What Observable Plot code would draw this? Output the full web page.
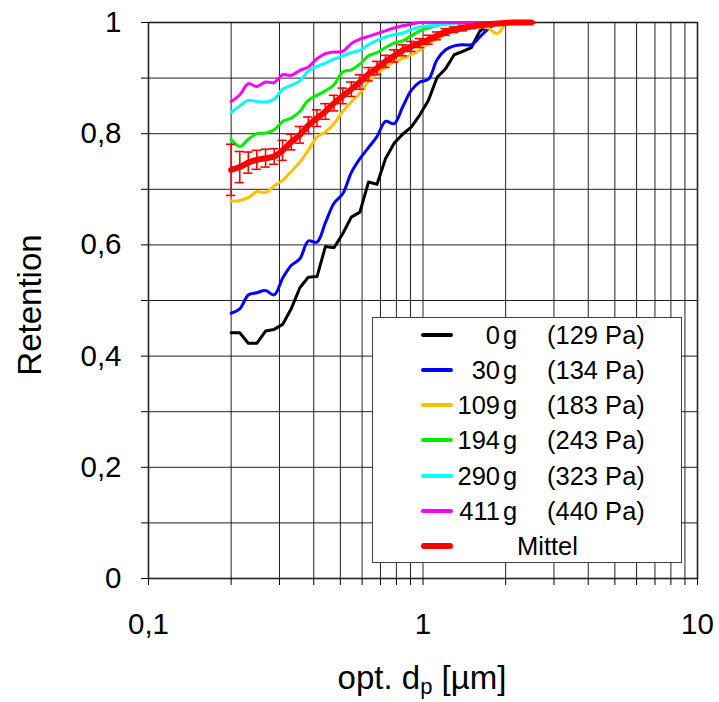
<!DOCTYPE html>
<html><head><meta charset="utf-8">
<script src="https://cdn.jsdelivr.net/npm/d3@7"></script>
<script src="https://cdn.jsdelivr.net/npm/@observablehq/plot@0.6"></script>
<style>
body{margin:0;background:#fff;font-family:"Liberation Sans",Arial,sans-serif;}
#wrap{position:relative;width:719px;height:702px;}
#legend{position:absolute;left:372px;top:317px;width:310px;height:246px;border:1.5px solid #444;background:#fff;box-sizing:border-box;font-size:25.5px;color:#000;line-height:30px;}
.row{position:absolute;left:0;width:100%;height:30px;}
.sw{position:absolute;left:48px;width:32px;height:4px;top:13px;border-radius:2px;}
.num{position:absolute;right:181px;top:0px;text-align:right;}
.g{position:absolute;left:130px;top:0px;}
.pa{position:absolute;left:174px;top:0px;}
.mit{position:absolute;left:144px;top:0px;}
</style></head>
<body><div id="wrap"></div>
<script>
// particle diameter (µm)
const dp = [0.200,0.215,0.231,0.248,0.267,0.287,0.308,0.331,0.356,0.382,0.411,0.441,0.474,0.510,0.548,0.589,0.633,0.680,0.730,0.785,0.843,0.906,0.974,1.047,1.125,1.209,1.299,1.396,1.500,1.612,1.732,1.861,2.000,2.149,2.310,2.482];
const s0g   = [0.442,0.442,0.423,0.423,0.445,0.448,0.457,0.485,0.523,0.542,0.543,0.597,0.595,0.620,0.650,0.659,0.713,0.709,0.755,0.783,0.799,0.812,0.834,0.860,0.901,0.917,0.942,0.948,0.955,0.985,0.994,1.0];
const s30g  = [0.477,0.485,0.510,0.514,0.518,0.510,0.540,0.563,0.575,0.607,0.605,0.640,0.675,0.692,0.730,0.755,0.775,0.795,0.822,0.818,0.848,0.878,0.893,0.898,0.933,0.951,0.958,0.960,0.960,0.974,0.989,1.0];
const s109g = [0.679,0.680,0.685,0.696,0.694,0.706,0.716,0.732,0.749,0.770,0.794,0.803,0.818,0.840,0.857,0.873,0.894,0.908,0.920,0.929,0.935,0.942,0.950,0.962,0.971,0.978,0.985,0.990,0.993,0.993,0.990,0.980,1.0];
const s194g = [0.790,0.777,0.790,0.800,0.801,0.807,0.822,0.828,0.840,0.860,0.869,0.877,0.888,0.911,0.915,0.925,0.940,0.946,0.955,0.963,0.967,0.976,0.985,0.990,0.995,0.997,0.999,1.0,1.0,1.0,1.0,1.0,1.0];
const s290g = [0.838,0.850,0.860,0.858,0.857,0.862,0.880,0.887,0.895,0.913,0.921,0.927,0.934,0.940,0.946,0.950,0.960,0.968,0.974,0.978,0.981,0.987,0.992,0.994,0.995,0.997,0.998,1.0,1.0,1.0,1.0,1.0,1.0];
const s411g = [0.858,0.870,0.890,0.885,0.893,0.892,0.906,0.905,0.914,0.920,0.935,0.944,0.947,0.948,0.962,0.970,0.975,0.980,0.985,0.990,0.994,0.997,1.0,1.0,1.0,1.0,1.0,1.0,1.0,1.0,1.0,1.0,1.0];
const mittel = [0.735,0.740,0.748,0.753,0.756,0.759,0.770,0.785,0.798,0.815,0.828,0.840,0.855,0.868,0.880,0.893,0.907,0.918,0.930,0.940,0.950,0.957,0.963,0.969,0.976,0.983,0.987,0.990,0.993,0.995,0.997,0.998,0.999,1.0,1.0,1.0];
const mittelErr = [0.046,0.028,0.019,0.017,0.016,0.014,0.018,0.014,0.015,0.015,0.015,0.014,0.014,0.014,0.013,0.013,0.012,0.012,0.011,0.011,0.010,0.009,0.008,0.008,0.007,0.006,0.005,0.005,0.004,0.004,0.003,0.003,0.002,0.001,0.001,0.001];

const seriesValues = [s0g, s30g, s109g, s194g, s290g, s411g];
const massLabels = ["0", "30", "109", "194", "290", "411"];
const pressureLabels = ["(129 Pa)", "(134 Pa)", "(183 Pa)", "(243 Pa)", "(323 Pa)", "(440 Pa)"];
const seriesColors = ["#000000", "#0000ff", "#ffc000", "#00ee00", "#00ffff", "#ff00ff"];
const meanLabel = "Mittel";
const meanColor = "#ff0000";

const xTickLabels = [0.1, 1, 10];
const xMinor = [0.1,0.2,0.3,0.4,0.5,0.6,0.7,0.8,0.9,1,2,3,4,5,6,7,8,9,10];
const yTickLabels = [0, 0.2, 0.4, 0.6, 0.8, 1];
const yMinor = [0,0.1,0.2,0.3,0.4,0.5,0.6,0.7,0.8,0.9,1];
const yLabel = "Retention";

const fmt = d => String(d).replace(".", ",");

const lineMarks = seriesValues.map((vals, k) =>
  Plot.line(vals.map((v, i) => ({x: dp[i], y: v})), {
    x: "x", y: "y", stroke: seriesColors[k], strokeWidth: 3,
    curve: k === 0 ? "linear" : "catmull-rom"
  })
);
const meanData = mittel.map((v, i) => ({x: dp[i], y: v, lo: v - mittelErr[i], hi: Math.min(1.004, v + mittelErr[i])}));
const capHalf = Math.pow(10, 0.017);

const plot = Plot.plot({
  width: 719, height: 702,
  marginLeft: 148, marginRight: 22, marginTop: 22, marginBottom: 124,
  style: {fontFamily: '"Liberation Sans", Arial, sans-serif', background: "#fff", color: "#000"},
  x: {type: "log", domain: [0.1, 10]},
  y: {domain: [0, 1]},
  marks: [
    Plot.gridX(xMinor, {stroke: "#222", strokeOpacity: 1, strokeWidth: 1}),
    Plot.gridY(yMinor, {stroke: "#222", strokeOpacity: 1, strokeWidth: 1}),
    Plot.frame({stroke: "#222", strokeWidth: 1.6}),
    Plot.axisX(xMinor, {tickSize: 7, tickFormat: () => "", label: null, strokeWidth: 1}),
    Plot.axisX(xTickLabels, {tickSize: 0, tickPadding: 35, tickFormat: fmt, fontSize: 29.5, label: null}),
    Plot.axisY(yMinor, {tickSize: 7, tickFormat: () => "", label: null, strokeWidth: 1}),
    Plot.axisY(yTickLabels, {tickSize: 0, tickPadding: 27, tickFormat: fmt, fontSize: 29.5, label: null}),
    ...lineMarks,
    Plot.ruleX(meanData, {x: "x", y1: "lo", y2: "hi", stroke: meanColor, strokeWidth: 1.6}),
    Plot.ruleY(meanData, {y: "lo", x1: d => d.x / capHalf, x2: d => d.x * capHalf, stroke: meanColor, strokeWidth: 1.6}),
    Plot.ruleY(meanData, {y: "hi", x1: d => d.x / capHalf, x2: d => d.x * capHalf, stroke: meanColor, strokeWidth: 1.6}),
    Plot.line(meanData, {x: "x", y: "y", stroke: meanColor, strokeWidth: 6, curve: "catmull-rom"})
  ]
});

const wrap = document.getElementById("wrap");
wrap.appendChild(plot);

// axis titles
const svg = d3.select(plot);
svg.append("text")
  .attr("transform", "translate(29,305) rotate(-90)")
  .attr("text-anchor", "middle").attr("dominant-baseline", "central")
  .attr("font-size", 33).attr("fill", "#000").text(yLabel);
const xl = svg.append("text")
  .attr("x", 422).attr("y", 689).attr("text-anchor", "middle")
  .attr("font-size", 33).attr("fill", "#000");
xl.append("tspan").text("opt. d");
xl.append("tspan").attr("font-size", 22).attr("dy", 5).text("p");
xl.append("tspan").attr("dy", -5).text(" [µm]");

// legend
const leg = document.createElement("div");
leg.id = "legend";
const rowTops = [17, 52, 87, 122, 158, 193, 228];
seriesColors.forEach((c, k) => {
  const r = document.createElement("div");
  r.className = "row";
  r.style.top = (rowTops[k] - 15) + "px";
  r.innerHTML = `<div class="sw" style="background:${c}"></div><span class="num">${massLabels[k]}</span><span class="g">g</span><span class="pa">${pressureLabels[k]}</span>`;
  leg.appendChild(r);
});
const rm = document.createElement("div");
rm.className = "row";
rm.style.top = (rowTops[6] - 15) + "px";
rm.innerHTML = `<div class="sw" style="background:${meanColor};height:6px;top:12px;border-radius:3px"></div><span class="mit">${meanLabel}</span>`;
leg.appendChild(rm);
wrap.appendChild(leg);
</script>
</body></html>
